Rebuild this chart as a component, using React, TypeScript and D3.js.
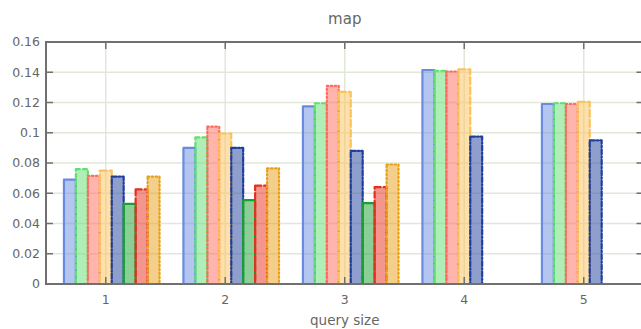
import React from "react";
import * as d3 from "d3";

const categories = [1, 2, 3, 4, 5];
const yTicks = [0, 0.02, 0.04, 0.06, 0.08, 0.1, 0.12, 0.14, 0.16];
const s1 = [0.069, 0.09, 0.1175, 0.1415, 0.119];
const s2 = [0.076, 0.097, 0.1195, 0.141, 0.1195];
const s3 = [0.0715, 0.104, 0.131, 0.1405, 0.119];
const s4 = [0.075, 0.0995, 0.127, 0.142, 0.1205];
const s5 = [0.071, 0.09, 0.088, 0.0975, 0.095];
const s6 = [0.053, 0.0555, 0.0535, null, null];
const s7 = [0.0625, 0.065, 0.064, null, null];
const s8 = [0.071, 0.0765, 0.079, null, null];
const seriesValues = [s1, s2, s3, s4, s5, s6, s7, s8];
const seriesColors = ["#6a8ce0", "#60e070", "#ff6a5c", "#fbc25a", "#1f3f9c", "#18a030", "#e62e1e", "#e8a018"];
const seriesDash = ["none", "4,3", "1.5,2.5", "7,3", "5,2,1.5,2", "none", "6,3", "1.5,2.5"];
const title = "map";
const xLabel = "query size";

const W = 641;
const H = 329;
const left = 46;
const top = 42;
const bottom = 284;
const right = 643.5;

export default function App() {
  const x = d3.scaleLinear().domain([0.5, 5.5]).range([left, right]);
  const y = d3.scaleLinear().domain([0, 0.16]).range([bottom, top]);
  const barW = 0.1;
  const offset0 = -0.35;
  const text = "#666666";
  const axis = "#707070";
  const grid = "#e2e8d8";
  const font = "DejaVu Sans, sans-serif";

  return (
    <svg
      width={W}
      height={H}
      style={{ position: "absolute", left: 0, top: 0 }}
      fontFamily={font}
    >
      <rect width={W} height={H} fill="#ffffff" />
      {yTicks.map((t) => (
        <line key={"gy" + t} x1={left} x2={right} y1={y(t)} y2={y(t)} stroke={grid} strokeWidth={1.5} />
      ))}
      {categories.map((c) => (
        <line key={"gx" + c} x1={x(c)} x2={x(c)} y1={top} y2={bottom} stroke={grid} strokeWidth={1.5} />
      ))}
      {seriesValues.map((vals, si) =>
        vals.map((v, ci) => {
          if (v === null) return null;
          const x0 = x(categories[ci] + offset0 + si * barW);
          const x1 = x(categories[ci] + offset0 + (si + 1) * barW);
          return (
            <rect
              key={si + "-" + ci}
              x={x0}
              y={y(v)}
              width={x1 - x0}
              height={y(0) - y(v)}
              fill={seriesColors[si]}
              fillOpacity={0.5}
              stroke={seriesColors[si]}
              strokeWidth={2.2}
              strokeDasharray={seriesDash[si]}
              strokeLinejoin="round"
              strokeLinecap="round"
            />
          );
        })
      )}
      {yTicks.map((t) => (
        <g key={"ty" + t}>
          <line x1={left} x2={left + 7} y1={y(t)} y2={y(t)} stroke={axis} strokeWidth={1.5} />
          <line x1={right - 7} x2={right} y1={y(t)} y2={y(t)} stroke={axis} strokeWidth={1.5} />
          <text x={40} y={y(t)} dy="0.35em" textAnchor="end" fontSize={12.5} fill={text}>
            {d3.format("~g")(t)}
          </text>
        </g>
      ))}
      {categories.map((c) => (
        <g key={"tx" + c}>
          <line x1={x(c)} x2={x(c)} y1={top} y2={top + 7} stroke={axis} strokeWidth={1.5} />
          <line x1={x(c)} x2={x(c)} y1={bottom} y2={bottom - 7} stroke={axis} strokeWidth={1.5} />
          <text x={x(c)} y={304} textAnchor="middle" fontSize={12.5} fill={text}>
            {c}
          </text>
        </g>
      ))}
      <rect x={left} y={top} width={right - left} height={bottom - top} fill="none" stroke={axis} strokeWidth={2} />
      <text x={(left + right) / 2} y={24} textAnchor="middle" fontSize={15} fill={text}>
        {title}
      </text>
      <text x={(left + right) / 2} y={325} textAnchor="middle" fontSize={13.5} fill={text}>
        {xLabel}
      </text>
    </svg>
  );
}
